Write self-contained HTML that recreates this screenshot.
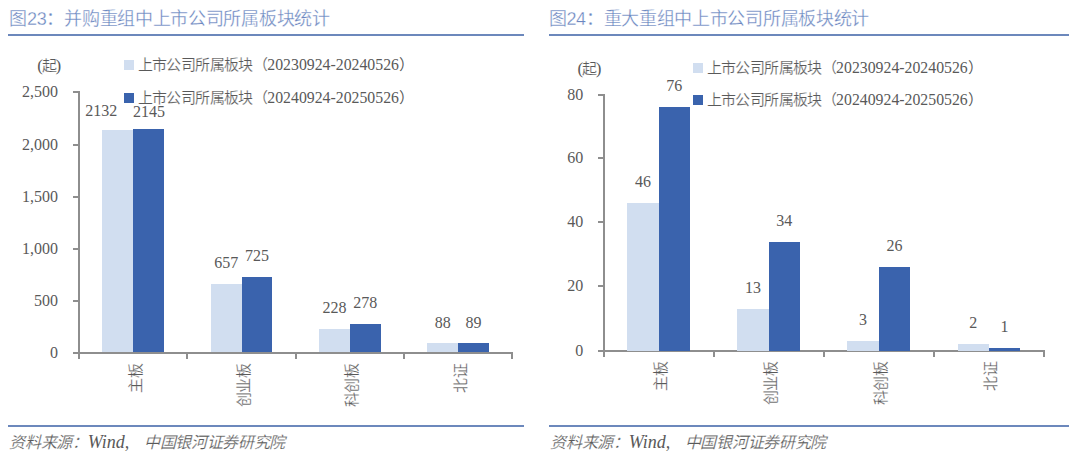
<!DOCTYPE html>
<html lang="zh-CN"><head><meta charset="utf-8">
<style>
html,body{margin:0;padding:0;background:#fff;width:1080px;height:458px;overflow:hidden}
body{position:relative;font-family:"Liberation Serif",serif}
.t{position:absolute;white-space:nowrap;line-height:1}
.r{position:absolute}
.k{-webkit-text-stroke:0.2px #fff}
.vl{width:60px;text-align:center}
.yl{text-align:right}
.cl{writing-mode:vertical-rl;text-orientation:sideways;transform:translateX(-50%) rotate(180deg);transform-origin:center}
</style></head><body>
<div class="t" style="left:9.30px;top:10.00px;font-size:18px;color:#6a86c0;font-family:'Liberation Sans',sans-serif;letter-spacing:-0.3px;-webkit-text-stroke:0.3px #fff">图23：并购重组中上市公司所属板块统计</div>
<div class="r" style="left:8.30px;top:34.00px;width:515.70px;height:2.00px;background:#6c88bc"></div>
<div class="r" style="left:8.30px;top:425.00px;width:515.70px;height:1.60px;background:#6c88bc"></div>
<div class="t" style="left:9.30px;top:433.00px;font-size:16px;color:#595959;font-style:italic"><span class="k" style="letter-spacing:-0.3px">资料来源：</span><span style="font-size:18px">Wind,</span><span class="k" style="margin-left:14.5px;letter-spacing:-0.3px">中国银河证券研究院</span></div>
<div class="t" style="left:37.20px;top:56.60px;font-size:15px;color:#595959;"><span style="font-size:17px;vertical-align:-1px;margin-right:-1.2px">(</span><span class="k" style="position:relative;top:1px;margin-right:-1.2px">起</span><span style="font-size:17px;vertical-align:-1px">)</span></div>
<div class="r" style="left:123.70px;top:60.30px;width:10.00px;height:10.00px;background:#d1def0"></div>
<div class="t" style="left:137.70px;top:57.30px;font-size:15px;color:#595959;"><span class="k" style="letter-spacing:-0.6px">上市公司所属板块（</span><span style="font-size:15.8px">20230924-20240526</span><span>）</span></div>
<div class="r" style="left:123.70px;top:93.30px;width:10.00px;height:10.00px;background:#3a63ad"></div>
<div class="t" style="left:137.70px;top:90.30px;font-size:15px;color:#595959;"><span class="k" style="letter-spacing:-0.6px">上市公司所属板块（</span><span style="font-size:15.8px">20240924-20250526</span><span>）</span></div>
<div class="r" style="left:78.10px;top:91.00px;width:2.00px;height:261.50px;background:#8e8e8e"></div>
<div class="r" style="left:73.10px;top:91.00px;width:6.00px;height:2.00px;background:#8e8e8e"></div>
<div class="t yl" style="right:1021.90px;top:84.10px;font-size:16px;color:#595959">2,500</div>
<div class="r" style="left:73.10px;top:143.60px;width:6.00px;height:2.00px;background:#8e8e8e"></div>
<div class="t yl" style="right:1021.90px;top:136.70px;font-size:16px;color:#595959">2,000</div>
<div class="r" style="left:73.10px;top:195.70px;width:6.00px;height:2.00px;background:#8e8e8e"></div>
<div class="t yl" style="right:1021.90px;top:188.80px;font-size:16px;color:#595959">1,500</div>
<div class="r" style="left:73.10px;top:247.80px;width:6.00px;height:2.00px;background:#8e8e8e"></div>
<div class="t yl" style="right:1021.90px;top:240.90px;font-size:16px;color:#595959">1,000</div>
<div class="r" style="left:73.10px;top:299.90px;width:6.00px;height:2.00px;background:#8e8e8e"></div>
<div class="t yl" style="right:1021.90px;top:293.00px;font-size:16px;color:#595959">500</div>
<div class="r" style="left:73.10px;top:351.50px;width:6.00px;height:2.00px;background:#8e8e8e"></div>
<div class="t yl" style="right:1021.90px;top:344.60px;font-size:16px;color:#595959">0</div>
<div class="r" style="left:78.10px;top:351.50px;width:435.20px;height:2.00px;background:#8e8e8e"></div>
<div class="r" style="left:78.10px;top:352.50px;width:2.00px;height:6.00px;background:#8e8e8e"></div>
<div class="r" style="left:186.40px;top:352.50px;width:2.00px;height:6.00px;background:#8e8e8e"></div>
<div class="r" style="left:294.70px;top:352.50px;width:2.00px;height:6.00px;background:#8e8e8e"></div>
<div class="r" style="left:403.00px;top:352.50px;width:2.00px;height:6.00px;background:#8e8e8e"></div>
<div class="r" style="left:511.30px;top:352.50px;width:2.00px;height:6.00px;background:#8e8e8e"></div>
<div class="r" style="left:102.44px;top:130.35px;width:30.81px;height:222.15px;background:#d1def0"></div>
<div class="t vl" style="left:71.14px;top:103.35px;font-size:16px;color:#595959">2132</div>
<div class="r" style="left:133.25px;top:128.99px;width:30.81px;height:223.51px;background:#3a63ad"></div>
<div class="t vl" style="left:119.06px;top:103.99px;font-size:16px;color:#595959">2145</div>
<div class="t cl k" style="left:135.75px;top:364.30px;font-size:15px;letter-spacing:-0.6px;color:#595959">主板</div>
<div class="r" style="left:210.74px;top:284.04px;width:30.81px;height:68.46px;background:#d1def0"></div>
<div class="t vl" style="left:196.14px;top:254.54px;font-size:16px;color:#595959">657</div>
<div class="r" style="left:241.55px;top:276.95px;width:30.81px;height:75.55px;background:#3a63ad"></div>
<div class="t vl" style="left:226.96px;top:247.95px;font-size:16px;color:#595959">725</div>
<div class="t cl k" style="left:244.05px;top:364.30px;font-size:15px;letter-spacing:-0.6px;color:#595959">创业板</div>
<div class="r" style="left:319.04px;top:328.74px;width:30.81px;height:23.76px;background:#d1def0"></div>
<div class="t vl" style="left:304.44px;top:299.74px;font-size:16px;color:#595959">228</div>
<div class="r" style="left:349.85px;top:323.53px;width:30.81px;height:28.97px;background:#3a63ad"></div>
<div class="t vl" style="left:335.26px;top:294.53px;font-size:16px;color:#595959">278</div>
<div class="t cl k" style="left:352.35px;top:364.30px;font-size:15px;letter-spacing:-0.6px;color:#595959">科创板</div>
<div class="r" style="left:427.34px;top:343.33px;width:30.81px;height:9.17px;background:#d1def0"></div>
<div class="t vl" style="left:412.74px;top:314.83px;font-size:16px;color:#595959">88</div>
<div class="r" style="left:458.15px;top:343.23px;width:30.81px;height:9.27px;background:#3a63ad"></div>
<div class="t vl" style="left:443.56px;top:314.73px;font-size:16px;color:#595959">89</div>
<div class="t cl k" style="left:460.65px;top:364.30px;font-size:15px;letter-spacing:-0.6px;color:#595959">北证</div>
<div class="t" style="left:548.70px;top:10.00px;font-size:18px;color:#6a86c0;font-family:'Liberation Sans',sans-serif;letter-spacing:-0.3px;-webkit-text-stroke:0.3px #fff">图24：重大重组中上市公司所属板块统计</div>
<div class="r" style="left:549.20px;top:34.00px;width:520.20px;height:2.00px;background:#6c88bc"></div>
<div class="r" style="left:549.20px;top:425.00px;width:520.20px;height:1.60px;background:#6c88bc"></div>
<div class="t" style="left:550.20px;top:433.00px;font-size:16px;color:#595959;font-style:italic"><span class="k" style="letter-spacing:-0.3px">资料来源：</span><span style="font-size:18px">Wind,</span><span class="k" style="margin-left:14.5px;letter-spacing:-0.3px">中国银河证券研究院</span></div>
<div class="t" style="left:577.50px;top:59.50px;font-size:15px;color:#595959;"><span style="font-size:17px;vertical-align:-1px;margin-right:-1.2px">(</span><span class="k" style="position:relative;top:1px;margin-right:-1.2px">起</span><span style="font-size:17px;vertical-align:-1px">)</span></div>
<div class="r" style="left:692.50px;top:63.30px;width:10.00px;height:10.00px;background:#d1def0"></div>
<div class="t" style="left:706.50px;top:60.30px;font-size:15px;color:#595959;"><span class="k" style="letter-spacing:-0.6px">上市公司所属板块（</span><span style="font-size:15.8px">20230924-20240526</span><span>）</span></div>
<div class="r" style="left:692.50px;top:94.50px;width:10.00px;height:10.00px;background:#3a63ad"></div>
<div class="t" style="left:706.50px;top:91.50px;font-size:15px;color:#595959;"><span class="k" style="letter-spacing:-0.6px">上市公司所属板块（</span><span style="font-size:15.8px">20240924-20250526</span><span>）</span></div>
<div class="r" style="left:602.50px;top:93.50px;width:2.00px;height:257.20px;background:#8e8e8e"></div>
<div class="r" style="left:597.50px;top:93.50px;width:6.00px;height:2.00px;background:#8e8e8e"></div>
<div class="t yl" style="right:496.70px;top:86.60px;font-size:16px;color:#595959">80</div>
<div class="r" style="left:597.50px;top:157.25px;width:6.00px;height:2.00px;background:#8e8e8e"></div>
<div class="t yl" style="right:496.70px;top:150.35px;font-size:16px;color:#595959">60</div>
<div class="r" style="left:597.50px;top:221.30px;width:6.00px;height:2.00px;background:#8e8e8e"></div>
<div class="t yl" style="right:496.70px;top:214.40px;font-size:16px;color:#595959">40</div>
<div class="r" style="left:597.50px;top:285.35px;width:6.00px;height:2.00px;background:#8e8e8e"></div>
<div class="t yl" style="right:496.70px;top:278.45px;font-size:16px;color:#595959">20</div>
<div class="r" style="left:597.50px;top:349.70px;width:6.00px;height:2.00px;background:#8e8e8e"></div>
<div class="t yl" style="right:496.70px;top:342.80px;font-size:16px;color:#595959">0</div>
<div class="r" style="left:602.50px;top:349.70px;width:442.40px;height:2.00px;background:#8e8e8e"></div>
<div class="r" style="left:602.50px;top:350.70px;width:2.00px;height:6.00px;background:#8e8e8e"></div>
<div class="r" style="left:712.60px;top:350.70px;width:2.00px;height:6.00px;background:#8e8e8e"></div>
<div class="r" style="left:822.70px;top:350.70px;width:2.00px;height:6.00px;background:#8e8e8e"></div>
<div class="r" style="left:932.80px;top:350.70px;width:2.00px;height:6.00px;background:#8e8e8e"></div>
<div class="r" style="left:1042.90px;top:350.70px;width:2.00px;height:6.00px;background:#8e8e8e"></div>
<div class="r" style="left:627.23px;top:203.38px;width:31.32px;height:147.31px;background:#d1def0"></div>
<div class="t vl" style="left:612.89px;top:174.38px;font-size:16px;color:#595959">46</div>
<div class="r" style="left:658.55px;top:107.31px;width:31.32px;height:243.39px;background:#3a63ad"></div>
<div class="t vl" style="left:644.21px;top:78.31px;font-size:16px;color:#595959">76</div>
<div class="t cl k" style="left:661.05px;top:362.30px;font-size:15px;letter-spacing:-0.6px;color:#595959">主板</div>
<div class="r" style="left:737.33px;top:309.07px;width:31.32px;height:41.63px;background:#d1def0"></div>
<div class="t vl" style="left:722.99px;top:280.07px;font-size:16px;color:#595959">13</div>
<div class="r" style="left:768.65px;top:241.81px;width:31.32px;height:108.88px;background:#3a63ad"></div>
<div class="t vl" style="left:754.31px;top:212.81px;font-size:16px;color:#595959">34</div>
<div class="t cl k" style="left:771.15px;top:362.30px;font-size:15px;letter-spacing:-0.6px;color:#595959">创业板</div>
<div class="r" style="left:847.43px;top:341.09px;width:31.32px;height:9.61px;background:#d1def0"></div>
<div class="t vl" style="left:833.09px;top:312.09px;font-size:16px;color:#595959">3</div>
<div class="r" style="left:878.75px;top:267.44px;width:31.32px;height:83.26px;background:#3a63ad"></div>
<div class="t vl" style="left:864.41px;top:238.44px;font-size:16px;color:#595959">26</div>
<div class="t cl k" style="left:881.25px;top:362.30px;font-size:15px;letter-spacing:-0.6px;color:#595959">科创板</div>
<div class="r" style="left:957.53px;top:344.30px;width:31.32px;height:6.40px;background:#d1def0"></div>
<div class="t vl" style="left:943.19px;top:315.30px;font-size:16px;color:#595959">2</div>
<div class="r" style="left:988.85px;top:347.50px;width:31.32px;height:3.20px;background:#3a63ad"></div>
<div class="t vl" style="left:974.51px;top:318.50px;font-size:16px;color:#595959">1</div>
<div class="t cl k" style="left:991.35px;top:362.30px;font-size:15px;letter-spacing:-0.6px;color:#595959">北证</div>
</body></html>
